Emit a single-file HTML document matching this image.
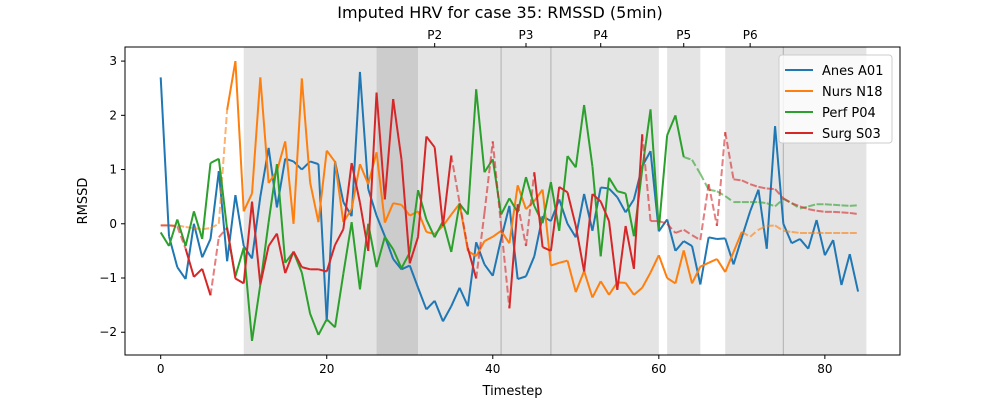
<!DOCTYPE html>
<html><head><meta charset="utf-8"><style>
body{margin:0;background:#fff;font-family:"Liberation Sans","DejaVu Sans",sans-serif}
svg text{font-family:"DejaVu Sans","Liberation Sans",sans-serif}
</style></head><body>
<svg id="chart" width="1000" height="400" xmlns="http://www.w3.org/2000/svg"></svg>
<script>
const seriesNames=["Anes A01","Nurs N18","Perf P04","Surg S03"];
const colors=["#1f77b4","#ff7f0e","#2ca02c","#d62728"];
const anes=[2.7,-0.23,-0.8,-1.02,0.0,-0.62,-0.28,0.97,-0.69,0.53,-0.41,-0.64,0.5,1.4,0.3,1.2,1.15,1.0,1.15,1.1,-1.8,1.15,0.4,0.14,2.8,0.64,0.15,-0.23,-0.65,-0.84,-0.77,-1.18,-1.58,-1.42,-1.8,-1.52,-1.18,-1.52,-0.34,-0.75,-0.96,-0.28,0.33,-1.02,-0.97,-0.6,0.14,0.05,0.45,0,-0.25,0.55,-0.13,0.67,0.65,0.49,0.21,0.45,1.06,1.34,-0.14,0.08,-0.5,-0.32,-0.41,-1.12,-0.25,-0.28,-0.27,-0.75,-0.25,0.23,0.63,-0.46,1.8,0,-0.36,-0.28,-0.46,0.07,-0.58,-0.3,-1.13,-0.56,-1.25];
const nurs=[-0.03,-0.03,-0.03,-0.06,-0.08,-0.1,-0.08,0.0,2.1,3.0,0.23,0.56,2.7,0.75,0.97,1.52,0,2.68,0.76,0.03,1.35,1.14,0.03,0.27,1.1,0.73,1.32,0.02,0.38,0.35,0.15,0.23,-0.15,-0.19,-0.04,0.17,0.37,-0.5,-0.6,-0.32,-0.24,-0.13,-0.36,0.71,0.27,0.42,0.63,-0.77,-0.72,-0.68,-1.26,-0.87,-1.36,-1.06,-1.31,-1.08,-1.09,-1.31,-1.18,-0.9,-0.58,-1.0,-1.1,-0.49,-1.1,-0.79,-0.72,-0.65,-0.89,-0.52,-0.15,-0.24,-0.11,-0.04,-0.03,-0.13,-0.15,-0.17,-0.17,-0.17,-0.17,-0.17,-0.17,-0.17,-0.17];
const perf=[-0.16,-0.41,0.08,-0.41,0.23,-0.28,1.12,1.2,-0.1,-0.97,-0.44,-2.16,-1.12,0.03,1.1,-0.72,-0.52,-0.9,-1.66,-2.05,-1.76,-1.91,-0.92,0.03,-1.21,0,-0.8,-0.24,-0.47,-0.82,-0.53,0.62,0.08,-0.25,0.05,-0.52,0.37,0.17,2.48,0.95,1.19,0.17,0.47,0.21,0.86,0.33,0.01,0.77,-0.13,1.25,1.04,2.19,1.06,-0.6,0.85,0.6,0.56,-0.23,1.0,2.11,-0.1,1.63,2.0,1.23,1.18,0.92,0.63,0.6,0.51,0.4,0.4,0.4,0.4,0.38,0.32,0.46,0.38,0.28,0.32,0.36,0.36,0.35,0.34,0.33,0.34];
const surg=[-0.03,-0.03,-0.05,-0.46,-0.98,-0.83,-1.32,-0.25,-0.07,-1.01,-1.1,0.41,-1.12,-0.41,-0.18,-0.91,-0.51,-0.8,-0.84,-0.84,-0.88,-0.39,-0.1,1.12,0.39,-0.5,2.42,0.45,2.3,1.19,-0.73,-0.24,1.61,1.41,-0.04,1.26,0.39,-0.45,-1.01,0.2,1.52,-0.04,-1.56,0.36,-0.41,0.95,-0.43,-0.5,0.68,0.58,-0.04,-0.88,0.55,0.41,0.05,-1.22,-0.04,-0.83,1.65,0.05,0.05,0,-0.17,-0.11,-0.21,-0.3,0.73,-0.04,1.69,0.82,0.8,0.73,0.68,0.65,0.64,0.47,0.38,0.32,0.27,0.24,0.22,0.22,0.21,0.2,0.18];
// imputed index lists
const anesImp=[];
const nursImp=[0,1,2,3,4,5,6,7,71,72,73,74,75,76,77,78,79,80,81,82,83,84];
const perfImp=[64,65,66,67,68,69,70,71,72,73,74,75,76,77,78,79,80,81,82,83,84];
const surgImp=[0,1,2,7,36,39,40,41,44,59,60,61,62,63,64,65,66,67,68,69,70,71,72,73,74,75,76,77,78,79,80,81,82,83,84];
const phaseSpans=[[10,26],[26,31],[31,41],[41,47],[47,60],[61,65],[68,75],[75,85]];
const phaseDark=[false,true,false,false,false,false,false,false];
const phaseLabels=["P2","P3","P4","P5","P6"];
const phasePos=[33,44,53,63,71];
const xTicks=[0,20,40,60,80];
const yTicks=[-2,-1,0,1,2,3];

const L=125,R=900,T=47,B=355;
const xMin=-4.3,xMax=89.05,yMin=-2.42,yMax=3.26;
const X=v=>L+(v-xMin)/(xMax-xMin)*(R-L);
const Y=v=>B-(v-yMin)/(yMax-yMin)*(B-T);
const svg=document.getElementById('chart');
const NS="http://www.w3.org/2000/svg";
function mk(tag,attrs,parent){const e=document.createElementNS(NS,tag);for(const k in attrs)e.setAttribute(k,attrs[k]);(parent||svg).appendChild(e);return e;}

const t=mk('text',{x:500,y:18,'text-anchor':'middle','font-size':16,fill:'#000'});
t.textContent="Imputed HRV for case 35: RMSSD (5min)";



phaseSpans.forEach((s,i)=>{
  const r=mk('rect',{x:X(s[0]),y:T,width:X(s[1])-X(s[0]),height:B-T,fill:phaseDark[i]?'#cccccc':'#e4e4e4'});
  
  
});
[41,47,75].forEach(v=>{
  const l=mk('line',{x1:X(v),x2:X(v),y1:T,y2:B,stroke:'#b8b8b8','stroke-width':1.2});
  
  
});

const all=[anes,nurs,perf,surg];
const imps=[anesImp,nursImp,perfImp,surgImp];
all.forEach((vals,si)=>{
  const g=mk('g',{});
  
  
  const imp=new Set(imps[si]);
  for(let i=0;i<vals.length-1;i++){
    const dashed=imp.has(i)||imp.has(i+1);
    const a={x1:X(i),y1:Y(vals[i]),x2:X(i+1),y2:Y(vals[i+1]),stroke:colors[si],'stroke-width':2,'stroke-linecap':'butt'};
    if(dashed){a['stroke-dasharray']='7,3';a['stroke-opacity']=0.6;}
    const s=mk('line',a,g);
    
    
  }
});

const frame=mk('rect',{x:L,y:T,width:R-L,height:B-T,fill:'none',stroke:'#000','stroke-width':1});



xTicks.forEach(v=>{
  mk('line',{x1:X(v),x2:X(v),y1:B,y2:B+4,stroke:'#000'});
  const tx=mk('text',{x:X(v),y:B+18,'text-anchor':'middle','font-size':12});
  tx.textContent=v;
  
  
});
yTicks.forEach(v=>{
  mk('line',{x1:L-4,x2:L,y1:Y(v),y2:Y(v),stroke:'#000'});
  const tx=mk('text',{x:L-8,y:Y(v)+4,'text-anchor':'end','font-size':12});
  tx.textContent=v<0?'\u2212'+(-v):v;
  
  
});
phasePos.forEach((v,i)=>{
  mk('line',{x1:X(v),x2:X(v),y1:T-4,y2:T,stroke:'#000'});
  const tx=mk('text',{x:X(v),y:T-8,'text-anchor':'middle','font-size':12});
  tx.textContent=phaseLabels[i];
  
  
});
const xl=mk('text',{x:(L+R)/2,y:B+40,'text-anchor':'middle','font-size':13});
xl.textContent="Timestep";


const yl=mk('text',{x:87,y:(T+B)/2,'text-anchor':'middle','font-size':13,transform:`rotate(-90 87 ${(T+B)/2})`});
yl.textContent="RMSSD";



const lg=mk('g',{});


mk('rect',{x:779,y:55,width:113,height:88,rx:3,fill:'#fff','fill-opacity':0.8,stroke:'#ccc'},lg);
seriesNames.forEach((n,i)=>{
  const yy=70+i*21;
  mk('line',{x1:785,x2:813,y1:yy,y2:yy,stroke:colors[i],'stroke-width':2},lg);
  const tx=mk('text',{x:822,y:yy+5,'font-size':13},lg);
  tx.textContent=n;
  
  
});
</script>
</body></html>
